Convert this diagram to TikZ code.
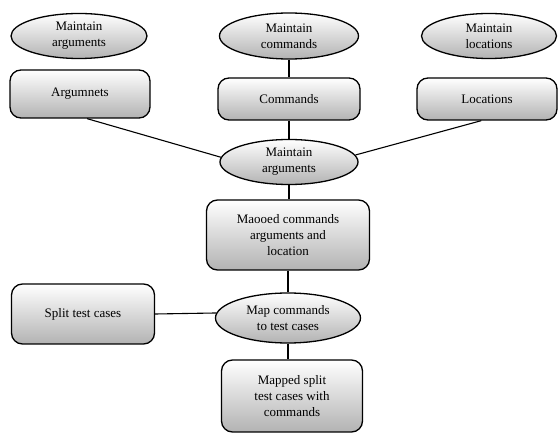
\documentclass[tikz,border=0pt]{standalone}
\usepackage{fontspec}
\setmainfont{Liberation Serif}
\usetikzlibrary{shapes.geometric,calc}
\tikzset{
  base/.style={draw=black, line width=1.3pt, top color=white, bottom color=black!30,
    align=center, inner sep=2pt, font=\fontsize{13}{16}\selectfont},
  oval/.style={base, ellipse},
  rbox/.style={base, rectangle, rounded corners=11pt},
  link/.style={draw=black, line width=1.1pt}
}
\begin{document}
\begin{tikzpicture}[x=1pt,y=-1pt]
\useasboundingbox (0,0) rectangle (558,433);
\node[oval, minimum width=136, minimum height=45] (e1) at (79,36) {Maintain\\arguments};
\node[oval, minimum width=139, minimum height=46] (e2) at (289,36) {Maintain\\commands};
\node[oval, minimum width=135, minimum height=45] (e3) at (489,36) {Maintain\\locations};
\node[rbox, minimum width=140, minimum height=48] (b1) at (80,94) {Argumnets};
\node[rbox, minimum width=142, minimum height=42] (b2) at (289,99) {Commands};
\node[rbox, minimum width=140, minimum height=42] (b3) at (487,99) {Locations};
\node[oval, minimum width=138, minimum height=45] (e4) at (289,162) {Maintain\\arguments};
\node[rbox, minimum width=163, minimum height=70] (b4) at (288,235) {Maooed commands\\arguments and\\location};
\node[rbox, minimum width=143, minimum height=60] (b5) at (83,314) {Split test cases};
\node[oval, minimum width=145, minimum height=50] (e5) at (288,318) {Map commands\\to test cases};
\node[rbox, minimum width=141, minimum height=72] (b6) at (292,396) {Mapped split\\test cases with\\commands};
\coordinate (b1out) at ($(b1.south west)!0.55!(b1.south east)$);
\coordinate (b3out) at ($(b3.south west)!0.46!(b3.south east)$);
\draw[link] (e2.south) -- (b2.north);
\draw[link] (b2.south) -- (e4.north);
\draw[link] (b1out) -- (e4.176);
\draw[link] (b3out) -- (e4.6);
\draw[link] (e4.south) -- (e4.south |- b4.north);
\draw[link] (b4.south) -- (e5.north);
\draw[link] (b5.east) -- (e5.176);
\draw[link] (e5.south) -- (e5.south |- b6.north);
\end{tikzpicture}
\end{document}
